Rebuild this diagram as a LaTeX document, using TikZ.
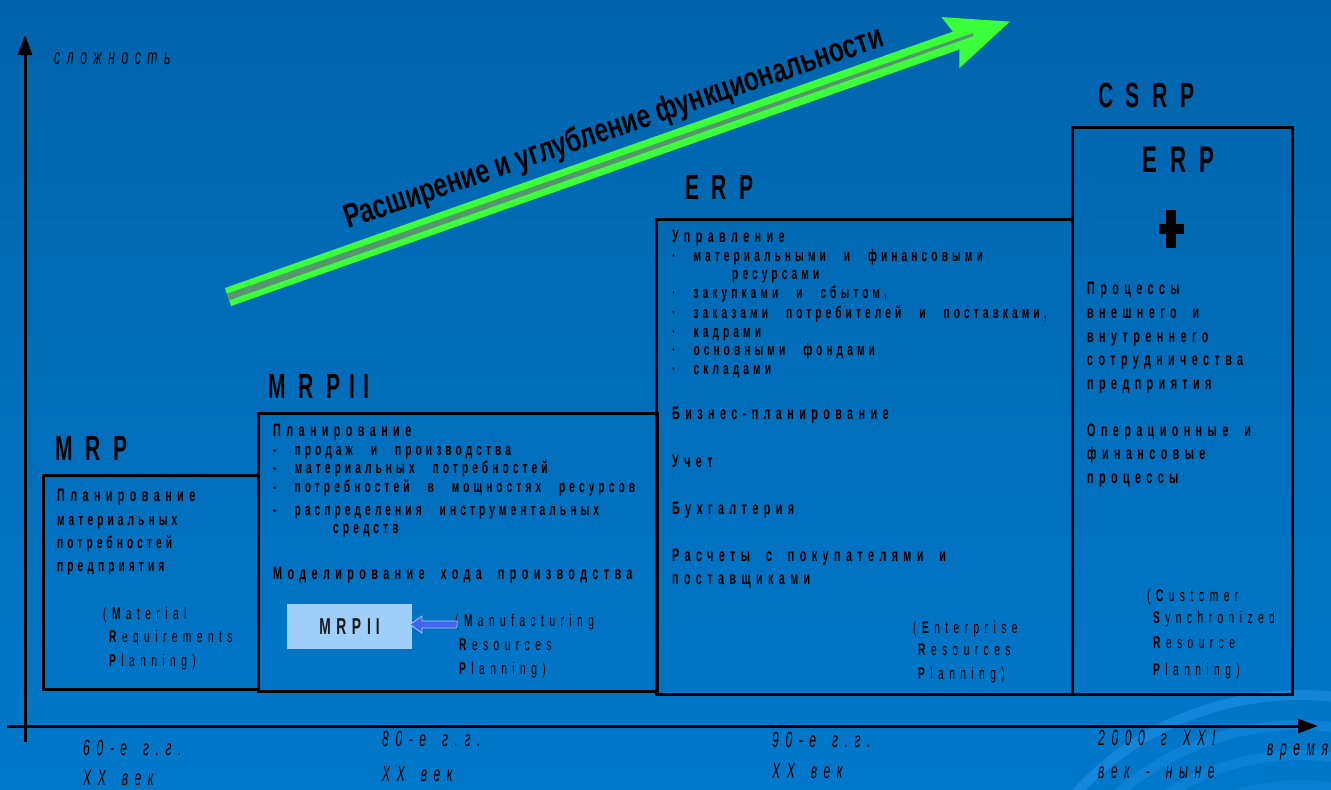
\documentclass[tikz,border=0pt]{standalone}
\usepackage{fontspec}
\setmainfont{Liberation Sans}
\newfontfamily\ttlf[FakeStretch=0.6,LetterSpace=36]{Liberation Sans}
\newfontfamily\bdf[FakeStretch=0.6,LetterSpace=30,WordSpace=1.9]{Liberation Sans}
\newfontfamily\itf[FakeStretch=0.6,LetterSpace=24,WordSpace=2.6]{Liberation Sans}
\newfontfamily\prf[FakeStretch=0.6,LetterSpace=32]{Liberation Sans}
\newfontfamily\axf[FakeStretch=0.55,LetterSpace=30,WordSpace=1.6]{Liberation Sans}
\newfontfamily\arf[FakeStretch=0.74]{Liberation Sans}
\usetikzlibrary{arrows.meta}
\definecolor{bgtop}{RGB}{0,100,172}
\definecolor{bgbot}{RGB}{0,120,202}
\definecolor{swirl}{RGB}{40,150,235}
\definecolor{grn}{RGB}{60,255,60}
\definecolor{grnmid}{RGB}{85,150,110}
\definecolor{lbox}{RGB}{158,207,250}
\definecolor{barrow}{RGB}{70,100,235}
\definecolor{barrowedge}{RGB}{160,200,255}
\begin{document}
\begin{tikzpicture}[x=1pt,y=-1pt,
  box/.style={draw=black,line width=3pt},
  ttl/.style={anchor=base west,inner sep=0pt,font=\ttlf\bfseries\fontsize{35}{40}\selectfont},
  hd/.style={anchor=base west,inner sep=0pt,font=\bdf\bfseries\fontsize{18}{22}\selectfont},
  itm/.style={anchor=base west,inner sep=0pt,font=\itf\bfseries\fontsize{17}{22}\selectfont},
  par/.style={anchor=base west,inner sep=0pt,font=\prf\fontsize{17}{22}\selectfont},
  axl/.style={anchor=base west,inner sep=0pt,font=\axf\itshape\fontsize{22}{26}\selectfont},
  axisline/.style={line width=3pt,-{Triangle[length=20pt,width=14pt]}}
]
\useasboundingbox (0,0) rectangle (1331,790);
\shade[top color=bgtop,bottom color=bgbot] (0,0) rectangle (1331,790);
\begin{scope}
\clip (0,0) rectangle (1331,790);
\foreach \r/\o in {305/0.5,275/0.35,245/0.3,215/0.25}
  \draw[swirl,line width=10pt,opacity=\o] (1300,1000) circle (\r);
\end{scope}

% green arrow
\begin{scope}[shift={(228,297)},rotate=19.4]
\fill[grn] (0,-9.5) -- (772,-9.5) -- (766,-27) -- (829,0) -- (766,27) -- (772,9.5) -- (0,9.5) -- cycle;
\fill[grnmid] (0,-3.5) -- (790,-1.5) -- (790,1.5) -- (0,3.5) -- cycle;
\end{scope}
\node[rotate=18.8,inner sep=0pt,font=\arf\bfseries\fontsize{33.5}{36}\selectfont] (lbl) at (614,129) {Расширение и углубление функциональности};

% axes
\coordinate (ybot) at (25,742);
\coordinate (ytop) at (25,35);
\coordinate (xl) at (7,726);
\coordinate (xr) at (1318,726);
\draw[axisline] (ybot) -- (ytop);
\draw[axisline] (xl) -- (xr);

% boxes
\draw[box] (43,475) rectangle (258,689);
\draw[box] (258,413) rectangle (657,691);
\draw[box] (656,219) rectangle (1072,694);
\draw[box] (1072,127) rectangle (1292,694);

% titles
\node[ttl] (t1) at (55,460) {MRP};
\node[ttl] (t2) at (268,398) {MRP\kern9pt I\kern9pt I};
\node[ttl] (t3) at (685,199) {ERP};
\node[ttl] (t4) at (1098,107) {CSRP};
\node[ttl,font=\ttlf\bfseries\fontsize{37}{40}\selectfont] (t5) at (1142,172) {ERP};
\fill (1166,210) rectangle (1176,248);
\fill (1159,224) rectangle (1184,234);

% MRP box text
\node[hd] (a1) at (57,501) {Планирование};
\node[itm] (a2) at (57,525) {материальных};
\node[itm] (a3) at (57,548) {потребностей};
\node[itm] (a4) at (57,571) {предприятия};
\node[par] (a5) at (103,619) {(\textbf{M}aterial};
\node[par] (a6) at (109,642) {\textbf{R}equirements};
\node[par] (a7) at (109,666) {\textbf{P}lanning)};

% MRPII box text
\node[hd] (b1) at (273,436) {Планирование};
\node[itm] (b2) at (273,455) {- продаж и производства};
\node[itm] (b3) at (273,473) {- материальных потребностей};
\node[itm] (b4) at (273,492) {- потребностей в мощностях ресурсов};
\node[itm] (b5) at (273,515) {- распределения инструментальных};
\node[itm] (b6) at (333,533) {средств};
\node[hd] (b7) at (273,579) {Моделирование хода производства};
\node[fill=lbox,minimum width=125pt,minimum height=45pt,inner sep=0pt,text=black!90,
      font=\itf\bfseries\fontsize{23}{26}\selectfont] (mbox) at (349.5,626.5) {MRP\kern6pt I\kern5pt I};
\node[par] (b8) at (455,626) {(\textbf{M}anufacturing};
\node[par] (b9) at (459,650) {\textbf{R}esources};
\node[par] (b10) at (459,674) {\textbf{P}lanning)};
\fill[barrow,draw=barrowedge,line width=0.8pt] (457,621) -- (422,621) -- (422,616) -- (410,624.5) -- (422,633) -- (422,628) -- (457,628) -- cycle;

% ERP box text
\node[hd] (c1) at (672,242) {Управление};
\node[itm] (c2) at (672,261) {· материальными и финансовыми};
\node[itm] (c3) at (732,279) {ресурсами};
\node[itm] (c4) at (672,298) {· закупками и сбытом,};
\node[itm] (c5) at (672,318) {· заказами потребителей и поставками,};
\node[itm] (c6) at (672,337) {· кадрами};
\node[itm] (c7) at (672,355) {· основными фондами};
\node[itm] (c8) at (672,374) {· складами};
\node[hd] (c9) at (672,419) {Бизнес-планирование};
\node[hd] (c10) at (672,467) {Учет};
\node[hd] (c11) at (672,514) {Бухгалтерия};
\node[hd] (c12) at (672,561) {Расчеты с покупателями и};
\node[hd] (c13) at (672,584) {поставщиками};
\node[par] (c14) at (913,633) {(\textbf{E}nterprise};
\node[par] (c15) at (918,655) {\textbf{R}esources};
\node[par] (c16) at (918,679) {\textbf{P}lanning)};

% CSRP box text
\node[hd] (d1) at (1087,294) {Процессы};
\node[hd] (d2) at (1087,318) {внешнего и};
\node[hd] (d3) at (1087,342) {внутреннего};
\node[hd] (d4) at (1087,365) {сотрудничества};
\node[hd] (d5) at (1087,389) {предприятия};
\node[hd] (d6) at (1087,436) {Операционные и};
\node[hd] (d7) at (1087,459) {финансовые};
\node[hd] (d8) at (1087,483) {процессы};
\node[par] (d9) at (1147,601) {(\textbf{C}ustomer};
\node[par] (d10) at (1153,623) {\textbf{S}ynchronized};
\node[par] (d11) at (1153,648) {\textbf{R}esource};
\node[par] (d12) at (1153,675) {\textbf{P}lanning)};

% axis labels
\node[axl] (e0) at (54,64) {сложность};
\node[axl] (e1) at (83,755) {60-е г.г.};
\node[axl] (e2) at (83,785) {XX век};
\node[axl] (e3) at (382,746) {80-е г.г.};
\node[axl] (e4) at (382,781) {XX век};
\node[axl] (e5) at (772,747) {90-е г.г.};
\node[axl] (e6) at (772,778) {XX век};
\node[axl] (e7) at (1098,745) {2000 г XXI};
\node[axl] (e8) at (1098,778) {век - ныне};
\node[axl] (e9) at (1267,755) {время};
\end{tikzpicture}
\end{document}
